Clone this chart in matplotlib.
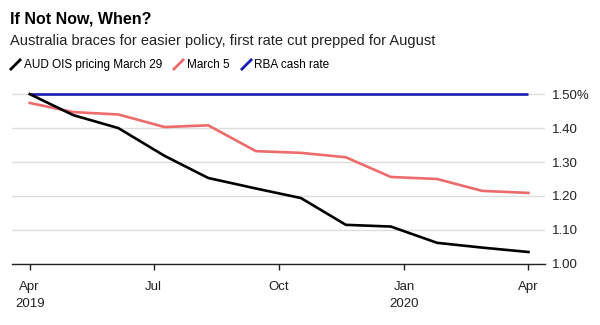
import pandas as pd
import matplotlib
matplotlib.use('Agg')
import matplotlib.pyplot as plt
from matplotlib.lines import Line2D

plt.rcParams['font.family'] = ['Liberation Sans', 'DejaVu Sans']

# data
dates = pd.to_datetime(['2019-04-01', '2019-05-03', '2019-06-05', '2019-07-09',
                        '2019-08-10', '2019-09-14', '2019-10-17', '2019-11-19',
                        '2019-12-22', '2020-01-25', '2020-02-27', '2020-04-01'])
ois_mar29 = [1.50, 1.438, 1.40, 1.318, 1.253, 1.222, 1.194, 1.115, 1.110, 1.062, 1.048, 1.035]
ois_mar5 = [1.474, 1.447, 1.440, 1.403, 1.408, 1.332, 1.327, 1.314, 1.256, 1.250, 1.215, 1.209]
cash_dates = pd.to_datetime(['2019-04-01', '2020-04-01'])
cash_rate = [1.50, 1.50]

yticks = [1.00, 1.10, 1.20, 1.30, 1.40, 1.50]
ytick_labels = ['1.00', '1.10', '1.20', '1.30', '1.40', '1.50%']
xticks = pd.to_datetime(['2019-04-01', '2019-07-01', '2019-10-01', '2020-01-01', '2020-04-01'])
xtick_labels = ['Apr\n2019', 'Jul', 'Oct', 'Jan\n2020', 'Apr']

black = '#000000'
red = '#ee6b6b'
blue = '#1c1cb4'

fig = plt.figure(figsize=(6, 3.25), dpi=100)
ax = fig.add_axes([0.02, 0.188, 0.888, 0.535])

ax.plot(cash_dates, cash_rate, color=blue, lw=1.9, solid_capstyle='butt', zorder=3)
ax.plot(dates, ois_mar5, color=red, lw=1.9, zorder=3)
ax.plot(dates, ois_mar29, color=black, lw=1.9, zorder=4)

ax.set_xlim(pd.Timestamp('2019-03-19'), pd.Timestamp('2020-04-13'))
ax.set_ylim(1.0, 1.512)

ax.set_yticks(yticks)
ax.set_yticklabels(ytick_labels)
ax.yaxis.tick_right()
ax.tick_params(axis='y', length=0, pad=5, labelsize=9.5, colors='#222222')
ax.grid(axis='y', color='#dddddd', lw=1)
ax.set_axisbelow(True)

ax.set_xticks(xticks)
ax.set_xticklabels(xtick_labels, linespacing=1.65)
ax.tick_params(axis='x', length=4, width=1, direction='out', pad=8, labelsize=9.5, colors='#222222')

for s in ['top', 'left', 'right']:
    ax.spines[s].set_visible(False)
ax.spines['bottom'].set_color('#222222')
ax.spines['bottom'].set_linewidth(1)

fig.text(0.017, 0.94, 'If Not Now, When?', fontsize=11.5, fontweight='bold', va='center')
fig.text(0.017, 0.875, 'Australia braces for easier policy, first rate cut prepped for August',
         fontsize=10.5, va='center', color='#222222')

slash = [(-1, -1), (1, 1)]
handles = [Line2D([], [], color=c, marker=slash, markersize=8, markeredgewidth=2, linestyle='none')
           for c in [black, red, blue]]
fig.legend(handles, ['AUD OIS pricing March 29', 'March 5', 'RBA cash rate'],
           loc='center left', bbox_to_anchor=(0.0, 0.80), ncol=3, frameon=False,
           fontsize=8.5, handlelength=0.8, handletextpad=0.3, columnspacing=1.0)

fig.savefig('out.png', dpi=100)
